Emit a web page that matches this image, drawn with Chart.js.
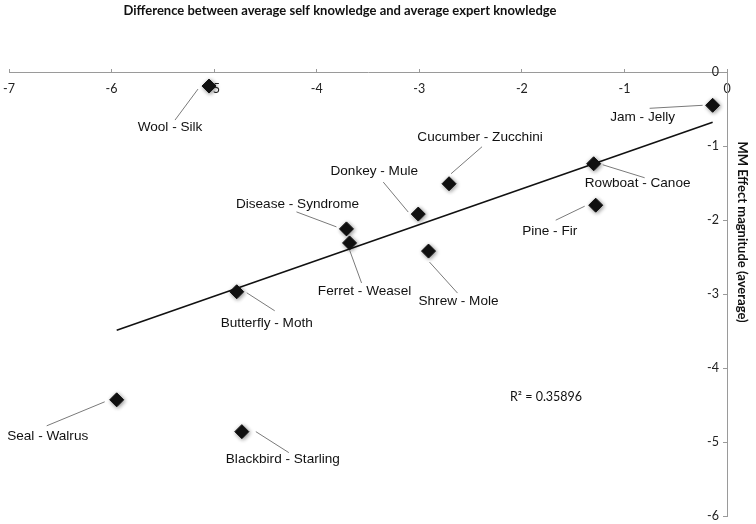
<!DOCTYPE html>
<html><head><meta charset="utf-8">
<script src="https://cdn.jsdelivr.net/npm/chart.js@4.4.1/dist/chart.umd.min.js"></script>
<style>html,body{margin:0;padding:0;background:#fff}</style>
</head><body>
<canvas id="c" width="756" height="524"></canvas>
<script>
// ---- data ----
const pairNames = ['Wool - Silk','Jam - Jelly','Cucumber - Zucchini','Rowboat - Canoe','Pine - Fir','Donkey - Mule','Disease - Syndrome','Ferret - Weasel','Shrew - Mole','Butterfly - Moth','Seal - Walrus','Blackbird - Starling'];
const knowledgeDiff = [-5.05,-0.14,-2.71,-1.30,-1.28,-3.01,-3.71,-3.68,-2.91,-4.78,-5.95,-4.73];
const mmEffect = [-0.19,-0.45,-1.51,-1.24,-1.80,-1.92,-2.12,-2.31,-2.42,-2.97,-4.43,-4.86];
const trendX = [-5.95,-0.14];
const trendY = [-3.49,-0.68];
const xTickValues = [-7,-6,-5,-4,-3,-2,-1,0];
const yTickValues = [0,-1,-2,-3,-4,-5,-6];
const titleText = 'Difference between average self knowledge and average expert knowledge';
const yTitleText = 'MM Effect magnitude (average)';
const r2Text = 'R\u00B2 = 0.35896';

// ---- label placement (pixel offsets from each point: label, leader start, leader end) ----
const labelPlacement = [
  [-39,41,-11,3,-34,34],
  [-70,12,-10,0,-63,3],
  [31,-46,2,-10,33,-37],
  [44,19,9,1,51,14],
  [-46,26,-11,1,-40,15],
  [-44,-43,-10,-2,-35,-32],
  [-49,-25,-10,-2,-50,-17],
  [15,48,0,7,12,40],
  [30,50,1,11,29,42],
  [30,31,10,1,38,19],
  [-69,36,-12,2,-70,26],
  [41,28,14,0,47,21]
];

const points = knowledgeDiff.map((x,i)=>({x, y: mmEffect[i]}));
const trend = trendX.map((x,i)=>({x, y: trendY[i]}));

const shadowPlugin = {
  id: 'shadow',
  beforeDatasetDraw(chart, args) {
    if (args.index === 0) {
      const ctx = chart.ctx; ctx.save();
      ctx.shadowColor = 'rgba(0,0,0,0.45)'; ctx.shadowBlur = 4; ctx.shadowOffsetX = 1; ctx.shadowOffsetY = 1;
    }
  },
  afterDatasetDraw(chart, args) { if (args.index === 0) chart.ctx.restore(); }
};

const annotPlugin = {
  id: 'annot',
  afterDatasetsDraw(chart) {
    const ctx = chart.ctx;
    const meta = chart.getDatasetMeta(0);
    ctx.save();
    ctx.strokeStyle = '#7a7a7a'; ctx.lineWidth = 1;
    ctx.font = '13.6px "Liberation Sans", Arial, sans-serif';
    ctx.fillStyle = '#111'; ctx.textAlign = 'center'; ctx.textBaseline = 'middle';
    meta.data.forEach((el, i) => {
      const p = labelPlacement[i];
      ctx.beginPath();
      ctx.moveTo(el.x + p[2], el.y + p[3]);
      ctx.lineTo(el.x + p[4], el.y + p[5]);
      ctx.stroke();
      ctx.fillText(pairNames[i], el.x + p[0], el.y + p[1]);
    });
    const ca = chart.chartArea;
    ctx.font = '12.5px Lato, sans-serif'; ctx.fillStyle = '#111'; ctx.textAlign = 'left';
    ctx.fillText(r2Text, ca.left + 501, ca.top + 325);
    // titles
    ctx.font = 'bold 13px Lato, sans-serif'; ctx.fillStyle = '#111'; ctx.textAlign = 'center';
    ctx.fillText(titleText, 340, 11);
    ctx.save();
    ctx.translate(742, 232); ctx.rotate(Math.PI/2);
    ctx.fillText(yTitleText, 0, 0);
    ctx.restore();
    ctx.restore();
  }
};

new Chart(document.getElementById('c'), {
  data: {
    datasets: [
      { type: 'scatter', data: points, pointStyle: 'rectRot', pointRadius: 7, pointHoverRadius: 7,
        backgroundColor: '#111', borderColor: '#111', borderWidth: 1, order: 0 },
      { type: 'line', data: trend, borderColor: '#111', borderWidth: 1.6, pointRadius: 0, fill: false, order: 1 }
    ]
  },
  options: {
    responsive: false, devicePixelRatio: 1, animation: false,
    layout: { padding: { left: 9, top: 72, right: 29, bottom: 8 } },
    plugins: { legend: { display: false }, tooltip: { enabled: false }, title: { display: false } },
    scales: {
      x: {
        type: 'linear', min: -7, max: 0, position: { y: 0 },
        afterBuildTicks: s => { s.ticks = xTickValues.map(v => ({ value: v })); },
        afterFit: s => { s.paddingLeft = 0; s.paddingRight = 0; },
        grid: { drawOnChartArea: false, tickLength: -4, color: '#9a9a9a' },
        border: { color: '#9a9a9a', width: 1 },
        ticks: { padding: 13, maxRotation: 0, autoSkip: false, color: '#222', font: { family: 'Lato', size: 12.5 } }
      },
      y: {
        type: 'linear', min: -6, max: 0, position: 'right',
        afterBuildTicks: s => { s.ticks = yTickValues.map(v => ({ value: v })); },
        afterFit: s => { s.width = 0; },
        grid: { drawOnChartArea: false, tickLength: -4, color: '#9a9a9a' },
        border: { color: '#9a9a9a', width: 1 },
        ticks: { mirror: true, padding: -8, color: '#222', font: { family: 'Lato', size: 12.5 } }
      }
    }
  },
  plugins: [shadowPlugin, annotPlugin]
});
</script>
</body></html>
